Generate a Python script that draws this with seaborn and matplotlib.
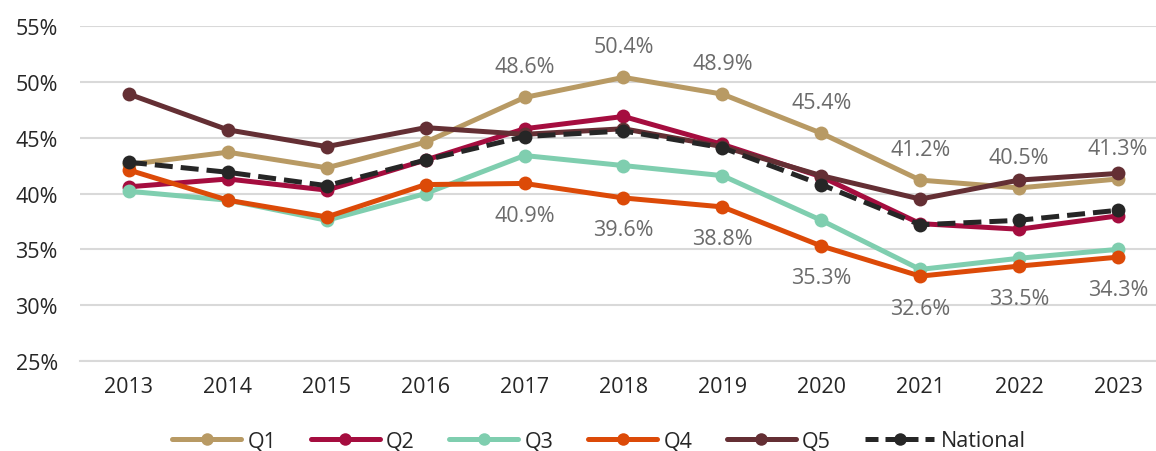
import numpy as np
import pandas as pd
import matplotlib
matplotlib.use("Agg")
import matplotlib.pyplot as plt
import seaborn as sns
from matplotlib.lines import Line2D

years = [2013, 2014, 2015, 2016, 2017, 2018, 2019, 2020, 2021, 2022, 2023]
q1 = [42.6, 43.7, 42.3, 44.6, 48.6, 50.4, 48.9, 45.4, 41.2, 40.5, 41.3]
q2 = [40.6, 41.3, 40.3, 43.0, 45.8, 46.9, 44.4, 41.5, 37.3, 36.8, 38.0]
q3 = [40.2, 39.4, 37.6, 40.0, 43.4, 42.5, 41.6, 37.6, 33.2, 34.2, 35.0]
q4 = [42.1, 39.4, 37.9, 40.8, 40.9, 39.6, 38.8, 35.3, 32.6, 33.5, 34.3]
q5 = [48.9, 45.7, 44.2, 45.9, 45.3, 45.8, 44.2, 41.6, 39.5, 41.2, 41.8]
national = [42.8, 41.9, 40.7, 43.0, 45.1, 45.6, 44.1, 40.8, 37.2, 37.6, 38.5]

series_names = ["Q1", "Q2", "Q3", "Q4", "Q5", "National"]
colors = ["#B89A64", "#A50D3F", "#7FCEAF", "#DC4A08", "#642F34", "#262626"]

rows = []
for name, vals in zip(series_names, [q1, q2, q3, q4, q5, national]):
    for y, v in zip(years, vals):
        rows.append({"Year": y, "Value": v, "Series": name})
df = pd.DataFrame(rows)

sns.set_theme(style="white")
plt.rcParams['font.family'] = ['Open Sans', 'DejaVu Sans']

fig = plt.figure(figsize=(11.56, 4.52), dpi=100)
ax = fig.add_axes([80 / 1156, 1 - 362 / 452, 1076 / 1156, 335 / 452])

palette = dict(zip(series_names, colors))
dashes = {n: "" for n in series_names}
dashes["National"] = (3.6, 1.6)
sns.lineplot(data=df, x="Year", y="Value", hue="Series", style="Series",
             palette=palette, dashes=dashes, markers={n: "o" for n in series_names},
             markersize=10, linewidth=3.6, markeredgewidth=0, ax=ax, legend=False,
             hue_order=series_names, style_order=series_names)

ax.set_xlim(2012.505, 2023.384)
ax.set_ylim(25, 55)
ax.set_yticks(np.arange(25, 56, 5))
ax.set_yticklabels([f"{t}%" for t in range(25, 56, 5)])
ax.set_xticks(years)
ax.set_xticklabels([str(y) for y in years])
ax.yaxis.grid(True, color="#D9D9D9", linewidth=1.5)
ax.xaxis.grid(False)
for s in ["top", "right", "left"]:
    ax.spines[s].set_visible(False)
ax.spines["bottom"].set_color("#D9D9D9")
ax.spines["bottom"].set_linewidth(1.5)
ax.tick_params(axis="both", length=0, labelsize=15.5, colors="#262626")
ax.tick_params(axis="y", pad=16)
ax.tick_params(axis="x", pad=11)
ax.set_xlabel("")
ax.set_ylabel("")

for i in range(4, len(years)):
    ax.annotate(f"{q1[i]:.1f}%", (years[i], q1[i]), xytext=(0, 22), textcoords="offset points",
                ha="center", va="center", fontsize=15.5, color="#6B6B6B")
    ax.annotate(f"{q4[i]:.1f}%", (years[i], q4[i]), xytext=(0, -23), textcoords="offset points",
                ha="center", va="center", fontsize=15.5, color="#6B6B6B")

handles = []
for n, c in zip(series_names, colors):
    ls = (0, (2.6, 1.4)) if n == "National" else "-"
    handles.append(Line2D([0], [0], color=c, lw=3.6, ls=ls, marker="o", markersize=9, markeredgewidth=0))
fig.legend(handles=handles, labels=series_names, loc="center", bbox_to_anchor=(599 / 1156, 1 - 442 / 452),
           ncol=6, frameon=False, fontsize=15.5, handlelength=3.2, columnspacing=1.6, handletextpad=0.3,
           labelcolor="#262626", borderpad=0.1)

fig.savefig("out.png", dpi=100)
